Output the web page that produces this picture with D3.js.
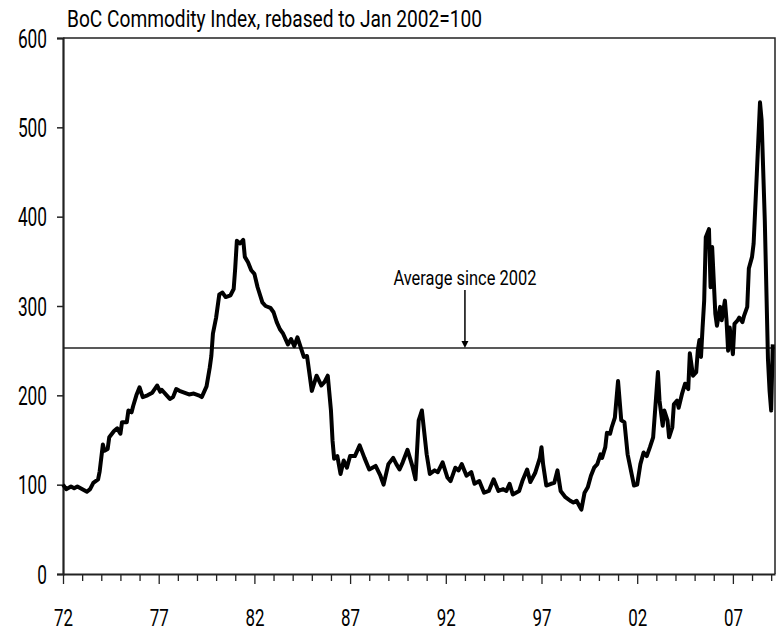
<!DOCTYPE html>
<html>
<head>
<meta charset="utf-8">
<script src="https://cdn.jsdelivr.net/npm/d3@7/dist/d3.min.js"></script>
<style>
  html, body { margin: 0; padding: 0; background: #fff; }
  svg text { font-family: Roboto, 'Liberation Sans', sans-serif; fill: #000; }
</style>
</head>
<body>
<svg id="chart" width="778" height="631"></svg>
<script>
// ---- Data ----
const months = [
 "1972-01","1972-03","1972-06","1972-08","1972-10","1972-12","1973-04","1973-06","1973-08","1973-11","1973-12",
 "1974-02","1974-03","1974-05","1974-06","1974-09","1974-11","1975-01","1975-02","1975-05","1975-06","1975-08","1975-09","1975-11",
 "1976-01","1976-03","1976-06","1976-09","1976-12","1977-02","1977-03","1977-06","1977-08","1977-10","1977-12",
 "1978-02","1978-05","1978-08","1978-11","1979-02","1979-04","1979-07","1979-09","1979-10","1979-11",
 "1980-01","1980-03","1980-05","1980-07","1980-10","1980-12","1981-01","1981-02","1981-04","1981-06","1981-07","1981-09","1981-11",
 "1982-01","1982-03","1982-06","1982-08","1982-11","1983-01","1983-03","1983-05","1983-07","1983-10","1983-12",
 "1984-02","1984-04","1984-06","1984-08","1984-10","1985-01","1985-04","1985-07","1985-09","1985-11",
 "1986-01","1986-02","1986-03","1986-05","1986-07","1986-09","1986-11","1987-01","1987-04","1987-07","1987-10",
 "1988-01","1988-05","1988-08","1988-10","1989-01","1989-04","1989-06","1989-08","1989-10",
 "1990-01","1990-04","1990-06","1990-08","1990-10","1991-01","1991-03","1991-06","1991-08","1991-11",
 "1992-02","1992-04","1992-07","1992-09","1992-11","1993-02","1993-05","1993-07","1993-10",
 "1994-01","1994-04","1994-07","1994-10","1995-01","1995-03","1995-05","1995-07","1995-11",
 "1996-01","1996-04","1996-06","1996-09","1996-12","1997-01","1997-02","1997-04","1997-07","1997-09","1997-11",
 "1998-01","1998-04","1998-07","1998-09","1998-11","1999-02","1999-04","1999-06","1999-08","1999-10","1999-12",
 "2000-02","2000-03","2000-05","2000-06","2000-08","2000-09","2000-11","2001-01","2001-03","2001-05","2001-07","2001-11",
 "2002-01","2002-03","2002-05","2002-07","2002-09","2002-11","2003-02","2003-03","2003-05","2003-06","2003-08","2003-09","2003-11","2003-12",
 "2004-02","2004-03","2004-05","2004-07","2004-09","2004-10","2004-12","2005-02","2005-03","2005-04","2005-05","2005-06","2005-07","2005-08","2005-10","2005-11","2005-12",
 "2006-02","2006-03","2006-05","2006-06","2006-08","2006-09","2006-10","2006-11","2007-01","2007-02","2007-04","2007-05","2007-07","2007-08","2007-10","2007-11",
 "2008-01","2008-02","2008-04","2008-06","2008-07","2008-09","2008-11","2008-12","2009-01","2009-02"
];
const index = [
 100,95,98,96,98,96,92,95,102,106,115,
 145,138,140,153,160,163,157,170,170,183,181,188,200,
 209,198,200,203,211,204,206,200,196,198,207,
 205,203,201,202,200,198,210,231,244,269,
 287,313,315,310,312,319,343,373,370,374,355,349,340,
 336,321,304,300,298,293,282,274,269,257,263,
 255,265,254,243,244,205,222,211,215,222,
 183,149,129,132,112,127,119,132,132,144,130,
 117,121,110,100,123,130,123,117,125,
 139,121,106,172,183,134,112,116,114,125,
 108,104,119,116,123,110,114,101,104,
 91,93,106,93,95,93,101,89,93,
 104,117,103,113,130,142,123,99,101,102,116,
 93,86,82,80,82,72,91,97,110,119,123,
 134,130,142,158,157,164,175,216,172,170,134,99,
 100,123,136,132,142,153,226,194,166,183,172,153,164,190,
 194,186,201,213,207,247,222,226,250,262,243,276,306,377,386,321,366,
 291,278,299,284,306,284,250,276,246,280,284,287,282,289,299,342,
 355,370,448,528,508,396,240,205,183,257
];
const averageSince2002 = 253;
const yTicks = [0, 100, 200, 300, 400, 500, 600];
const xTickYears = d3.range(1972, 2010);
const xLabelYears = [1972, 1977, 1982, 1987, 1992, 1997, 2002, 2007];
const titleText = "BoC Commodity Index, rebased to Jan 2002=100";
const annotationText = "Average since 2002";

// ---- Layout ----
const svg = d3.select("#chart");
const pLeft = 63, pRight = 775, pTop = 38, pBottom = 574;

const toYear = s => { const [yy, mm] = s.split("-").map(Number); return yy + (mm - 1) / 12; };
const data = months.map((m, i) => ({ t: toYear(m), v: index[i] }));

const x = d3.scaleLinear().domain([1972, 2009.2]).range([pLeft, pRight]);
const y = d3.scaleLinear().domain([0, 600]).range([pBottom, pTop]);

// Frame (top and right)
svg.append("path")
  .attr("d", `M${pLeft},${pTop}H${pRight}V${pBottom}`)
  .attr("fill", "none").attr("stroke", "#222").attr("stroke-width", 1.5);

// Y axis
const yAxis = svg.append("g").attr("transform", `translate(${pLeft},0)`)
  .call(d3.axisLeft(y).tickValues(yTicks).tickSize(6).tickPadding(10).tickFormat(d3.format("d")));
yAxis.select(".domain").attr("stroke", "#222").attr("stroke-width", 2.2);
yAxis.selectAll(".tick line").attr("stroke", "#222").attr("stroke-width", 1.5);
yAxis.selectAll("text").attr("font-size", 25).attr("dy", "0.36em")
  .attr("textLength", d => String(d).length * 9.7).attr("lengthAdjust", "spacingAndGlyphs");

// X axis
const xAxis = svg.append("g").attr("transform", `translate(0,${pBottom})`)
  .call(d3.axisBottom(x).tickValues(xTickYears).tickSize(7).tickSizeOuter(0)
    .tickFormat(d => xLabelYears.includes(d) ? String(d).slice(2) : ""));
xAxis.select(".domain").attr("stroke", "#222").attr("stroke-width", 2.2);
xAxis.selectAll(".tick line").attr("stroke", "#222").attr("stroke-width", 1.3)
  .attr("y2", d => xLabelYears.includes(d) ? 10 : 7);
xAxis.selectAll(".tick text").filter(d => xLabelYears.includes(d))
  .attr("font-size", 24).attr("y", 52).attr("dy", 0)
  .attr("textLength", 19).attr("lengthAdjust", "spacingAndGlyphs");

// Average line
svg.append("line")
  .attr("x1", pLeft).attr("x2", pRight)
  .attr("y1", y(averageSince2002)).attr("y2", y(averageSince2002))
  .attr("stroke", "#222").attr("stroke-width", 1.6);

// Data line
svg.append("path").datum(data)
  .attr("fill", "none").attr("stroke", "#000").attr("stroke-width", 4)
  .attr("stroke-linejoin", "round")
  .attr("d", d3.line().x(d => x(d.t)).y(d => y(d.v)));

// Annotation
const ax = x(1993.0);
const ay = y(averageSince2002);
svg.append("text").attr("x", ax).attr("y", 285).attr("text-anchor", "middle")
  .attr("font-size", 20).attr("textLength", 143).attr("lengthAdjust", "spacingAndGlyphs")
  .text(annotationText);
svg.append("line").attr("x1", ax).attr("x2", ax).attr("y1", 290).attr("y2", ay - 5)
  .attr("stroke", "#000").attr("stroke-width", 1.5);
svg.append("path")
  .attr("d", `M${ax - 3.5},${ay - 7}L${ax + 3.5},${ay - 7}L${ax},${ay}Z`)
  .attr("fill", "#000");

// Title
svg.append("text").attr("x", 67).attr("y", 27).attr("font-size", 23)
  .attr("textLength", 415).attr("lengthAdjust", "spacingAndGlyphs").text(titleText);
</script>
</body>
</html>
